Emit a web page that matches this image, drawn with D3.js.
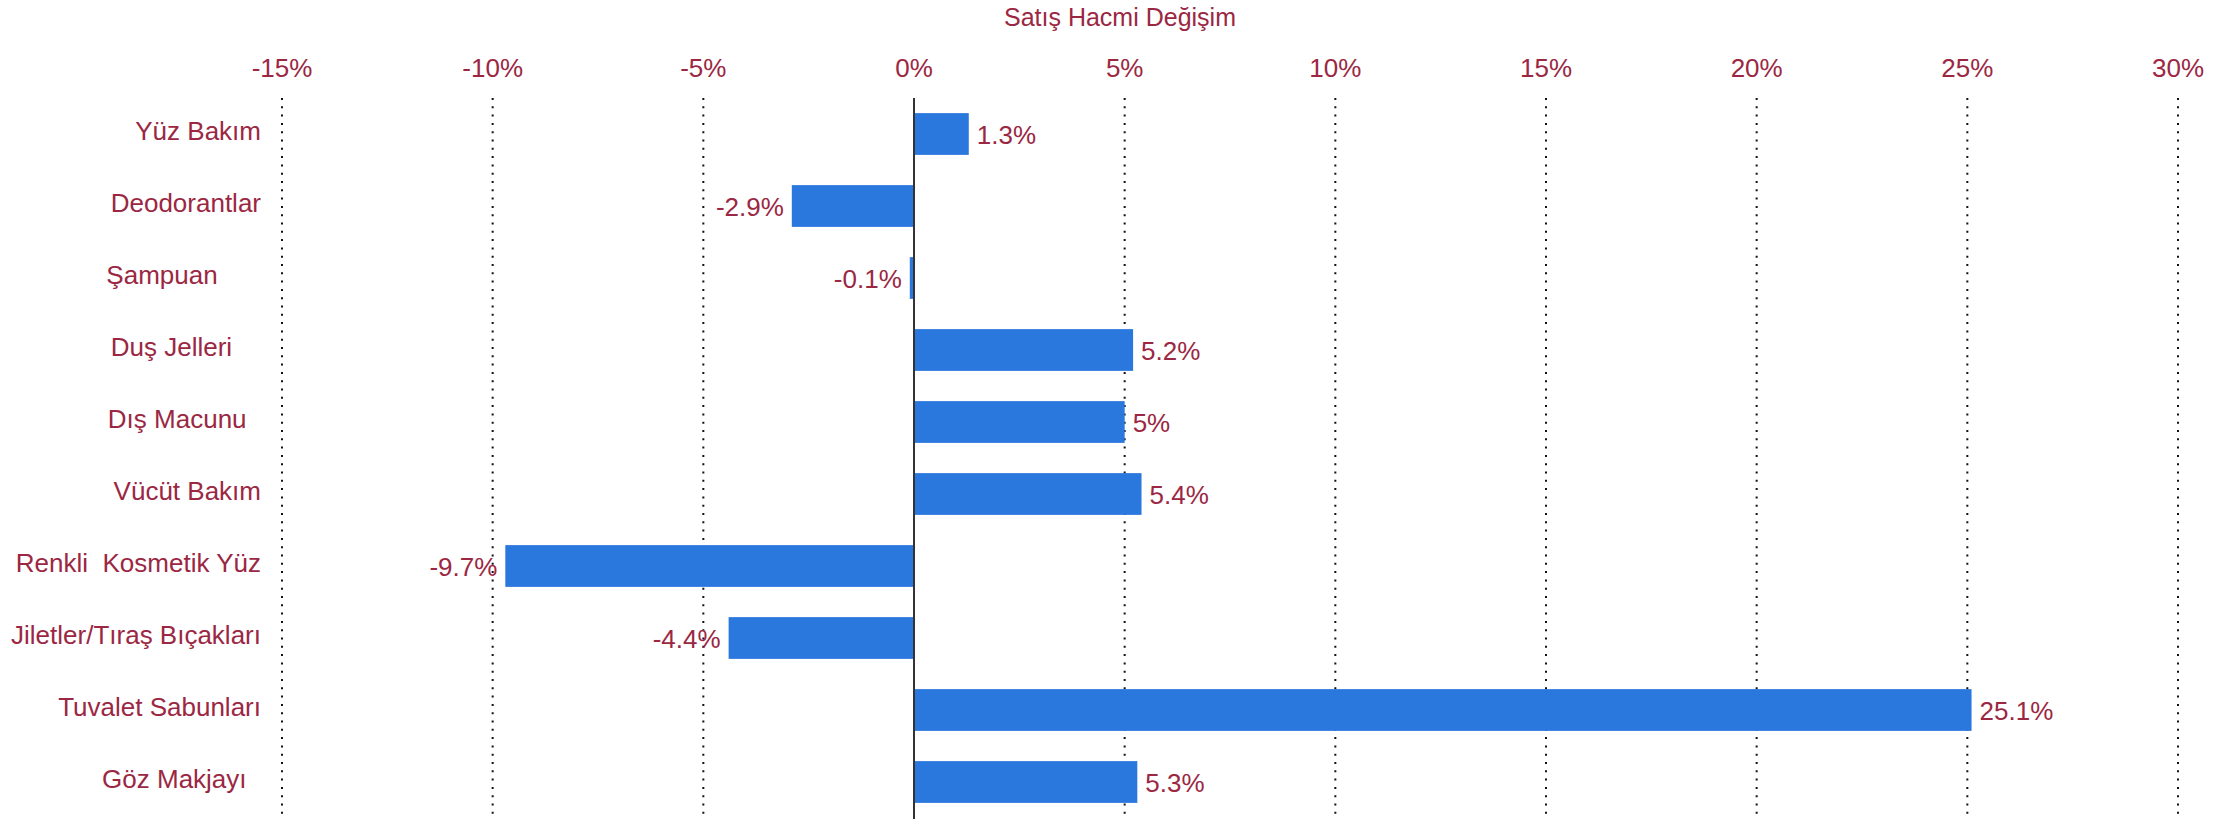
<!DOCTYPE html>
<meta charset="utf-8">
<style>
body { margin: 0; background: #fff; }
text { font-family: "Liberation Sans", Arial, sans-serif; font-size: 26px; fill: #9b2743; }
.cat { white-space: pre; }
.grid line { stroke: #111; stroke-width: 2; stroke-dasharray: 2,6.3; }
.bar { fill: #2a77dd; }
</style>
<body>
<script src="https://d3js.org/d3.v7.min.js"></script>
<script>
// categories (trailing spaces kept as in the source labels)
var categories = ["Yüz Bakım", "Deodorantlar", "Şampuan      ", "Duş Jelleri    ", "Dış Macunu  ",
  "Vücüt Bakım", "Renkli  Kosmetik Yüz", "Jiletler/Tıraş Bıçakları", "Tuvalet Sabunları", "Göz Makjayı  "];
var values = [1.3, -2.9, -0.1, 5.2, 5, 5.4, -9.7, -4.4, 25.1, 5.3];
var tickValues = [-15, -10, -5, 0, 5, 10, 15, 20, 25, 30];
var title = "Satış Hacmi Değişim";

var width = 2240, height = 819;

var x = d3.scaleLinear().domain([-15, 30]).range([282, 2178]);
var y = d3.scaleBand().domain(categories).range([98, 818]).paddingInner(0.42).paddingOuter(0.21);

var svg = d3.select("body").append("svg")
    .attr("width", width)
    .attr("height", height);

// title
svg.append("text")
    .attr("x", width / 2)
    .attr("y", 26)
    .attr("text-anchor", "middle")
    .style("font-size", "25px")
    .text(title);

// vertical dotted grid
var grid = svg.append("g").attr("class", "grid");
grid.selectAll("line")
    .data(tickValues.filter(function(d) { return d != 0; }))
  .enter().append("line")
    .attr("x1", function(d) { return x(d); })
    .attr("x2", function(d) { return x(d); })
    .attr("y1", 98)
    .attr("y2", height);

// tick labels on top
svg.append("g").selectAll("text")
    .data(tickValues)
  .enter().append("text")
    .attr("x", function(d) { return x(d); })
    .attr("y", 77)
    .attr("text-anchor", "middle")
    .text(function(d) { return d + "%"; });

// bars
var data = categories.map(function(c, i) { return {cat: c, val: values[i]}; });
svg.selectAll(".bar")
    .data(data)
  .enter().append("rect")
    .attr("class", "bar")
    .attr("x", function(d) { return x(Math.min(0, d.val)); })
    .attr("width", function(d) { return Math.abs(x(d.val) - x(0)); })
    .attr("y", function(d) { return y(d.cat); })
    .attr("height", y.bandwidth());

// zero line
svg.append("line")
    .attr("x1", x(0)).attr("x2", x(0))
    .attr("y1", 98).attr("y2", height)
    .attr("stroke", "#333")
    .attr("stroke-width", 2);

// value labels
svg.selectAll(".val")
    .data(data)
  .enter().append("text")
    .attr("class", "val")
    .attr("x", function(d) { return d.val >= 0 ? x(d.val) + 8 : x(d.val) - 8; })
    .attr("y", function(d) { return y(d.cat) + y.bandwidth() / 2 + 10; })
    .attr("text-anchor", function(d) { return d.val >= 0 ? "start" : "end"; })
    .text(function(d) { return d.val + "%"; });

// category labels
svg.selectAll(".cat")
    .data(data)
  .enter().append("text")
    .attr("class", "cat")
    .attr("x", 261)
    .attr("y", function(d) { return y(d.cat) + y.bandwidth() / 2 + 6; })
    .attr("text-anchor", "end")
    .text(function(d) { return d.cat; });
</script>
</body>
